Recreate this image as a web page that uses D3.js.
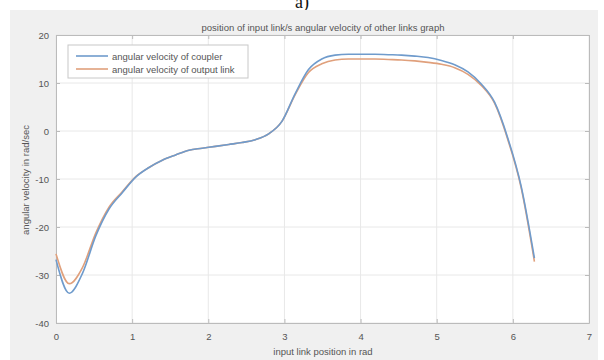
<!DOCTYPE html>
<html>
<head>
<meta charset="utf-8">
<script src="https://cdn.jsdelivr.net/npm/d3@7"></script>
<style>
  body { margin: 0; background: #fff; }
  text { font-family: "Liberation Sans", Arial, sans-serif; fill: #555; }
</style>
</head>
<body>
<div id="chart"></div>
<script>
// input link angle, sampled every 10 degrees (0..2pi)
const angleDeg = d3.range(0, 361, 10);
const couplerVel = [-26.8, -33.8, -29.6, -21.8, -16.2, -12.8, -9.6, -7.6, -6.1, -5.0, -4.0,
    -3.6, -3.2, -2.8, -2.4, -1.8, -0.6, 2.0, 7.8, 12.8, 15.0, 15.8, 16.0, 16.0, 16.0,
    15.9, 15.8, 15.6, 15.3, 14.7, 13.8, 12.3, 9.8, 6.0, -1.5, -11.5, -26.5];
const outputVel = [-25.6, -31.8, -28.4, -21.2, -15.8, -12.6, -9.5, -7.6, -6.1, -5.0, -4.0,
    -3.6, -3.2, -2.8, -2.4, -1.8, -0.6, 2.0, 7.6, 12.2, 14.0, 14.8, 15.0, 15.0, 15.0,
    14.9, 14.8, 14.6, 14.3, 13.9, 13.2, 11.8, 9.5, 5.8, -1.8, -11.8, -27.2];
const xTicks = [0, 1, 2, 3, 4, 5, 6, 7];
const yTicks = [-40, -30, -20, -10, 0, 10, 20];
const seriesNames = ["angular velocity of coupler", "angular velocity of output link"];
const seriesColors = ["#6f9bcc", "#e0a07c"];

const W = 604, H = 360;
const margin = { top: 35, right: 15, bottom: 37, left: 56 },
    width = W - margin.left - margin.right,
    height = H - margin.top - margin.bottom;

var svg = d3.select("#chart")
    .append("svg")
    .attr("width", W)
    .attr("height", H);

// caption above the figure (partly cut off, as in the source)
svg.append("text")
    .attr("x", 302)
    .attr("y", 8)
    .attr("text-anchor", "middle")
    .style("font-family", "Liberation Serif, serif")
    .style("font-size", "18px")
    .style("fill", "#111")
    .text("a)");

// figure background
svg.append("rect")
    .attr("x", 10).attr("y", 10)
    .attr("width", 588).attr("height", 350)
    .attr("fill", "#f0f0f0");

var xScale = d3.scaleLinear().domain([0, 7]).range([0, width]),
    yScale = d3.scaleLinear().domain([-40, 20]).range([height, 0]);

var g = svg.append("g")
    .attr("transform", "translate(" + margin.left + "," + margin.top + ")");

g.append("rect")
    .attr("width", width).attr("height", height)
    .attr("fill", "#fff");

// grid
g.append("g")
    .selectAll("line")
    .data(xTicks)
    .enter().append("line")
    .attr("x1", d => xScale(d)).attr("x2", d => xScale(d))
    .attr("y1", 0).attr("y2", height)
    .attr("stroke", "#e8e8e8");
g.append("g")
    .selectAll("line")
    .data(yTicks)
    .enter().append("line")
    .attr("x1", 0).attr("x2", width)
    .attr("y1", d => yScale(d)).attr("y2", d => yScale(d))
    .attr("stroke", "#e8e8e8");

// axes with inward ticks
function styleAxis(sel) {
    sel.select(".domain").attr("stroke", "#bbb");
    sel.selectAll(".tick line").attr("stroke", "#bbb");
    sel.selectAll("text").style("font-size", "9.5px").style("fill", "#555");
}
g.append("g")
    .attr("transform", "translate(0," + height + ")")
    .call(d3.axisBottom(xScale).tickValues(xTicks).tickSizeInner(-4).tickSizeOuter(0).tickPadding(10)
        .tickFormat(d3.format("d")))
    .call(styleAxis);
g.append("g")
    .call(d3.axisTop(xScale).tickValues(xTicks).tickSizeInner(-4).tickSizeOuter(0).tickFormat(""))
    .call(styleAxis);
g.append("g")
    .call(d3.axisLeft(yScale).tickValues(yTicks).tickSizeInner(-4).tickSizeOuter(0).tickPadding(7)
        .tickFormat(d => d < 0 ? "-" + Math.abs(d) : d))
    .call(styleAxis);
g.append("g")
    .attr("transform", "translate(" + width + ",0)")
    .call(d3.axisRight(yScale).tickValues(yTicks).tickSizeInner(-4).tickSizeOuter(0).tickFormat(""))
    .call(styleAxis);

// curves
var line = d3.line()
    .x((d, i) => xScale(angleDeg[i] * Math.PI / 180))
    .y(d => yScale(d))
    .curve(d3.curveMonotoneX);

[outputVel, couplerVel].forEach((vals, j) => {
    g.append("path")
        .datum(vals)
        .attr("fill", "none")
        .attr("stroke", seriesColors[1 - j])
        .attr("stroke-width", 1.6)
        .attr("stroke-linejoin", "round")
        .attr("d", line);
});

// title and labels
svg.append("text")
    .attr("x", 323).attr("y", 31)
    .attr("text-anchor", "middle")
    .style("font-size", "9.5px")
    .text("position of input link/s angular velocity of other links graph");

svg.append("text")
    .attr("x", 323).attr("y", 355)
    .attr("text-anchor", "middle")
    .style("font-size", "9.5px")
    .text("input link position in rad");

svg.append("text")
    .attr("transform", "translate(29,180) rotate(-90)")
    .attr("text-anchor", "middle")
    .style("font-size", "9.5px")
    .text("angular velocity in rad/sec");

// legend
var legend = svg.append("g").attr("transform", "translate(68,45)");
legend.append("rect")
    .attr("width", 180).attr("height", 33)
    .attr("fill", "#fff").attr("stroke", "#c8c8c8");
seriesNames.forEach((name, i) => {
    legend.append("line")
        .attr("x1", 8).attr("x2", 40)
        .attr("y1", 11 + i * 13).attr("y2", 11 + i * 13)
        .attr("stroke", seriesColors[i]).attr("stroke-width", 1.6);
    legend.append("text")
        .attr("x", 44).attr("y", 14.5 + i * 13)
        .style("font-size", "9.5px")
        .text(name);
});
</script>
</body>
</html>
